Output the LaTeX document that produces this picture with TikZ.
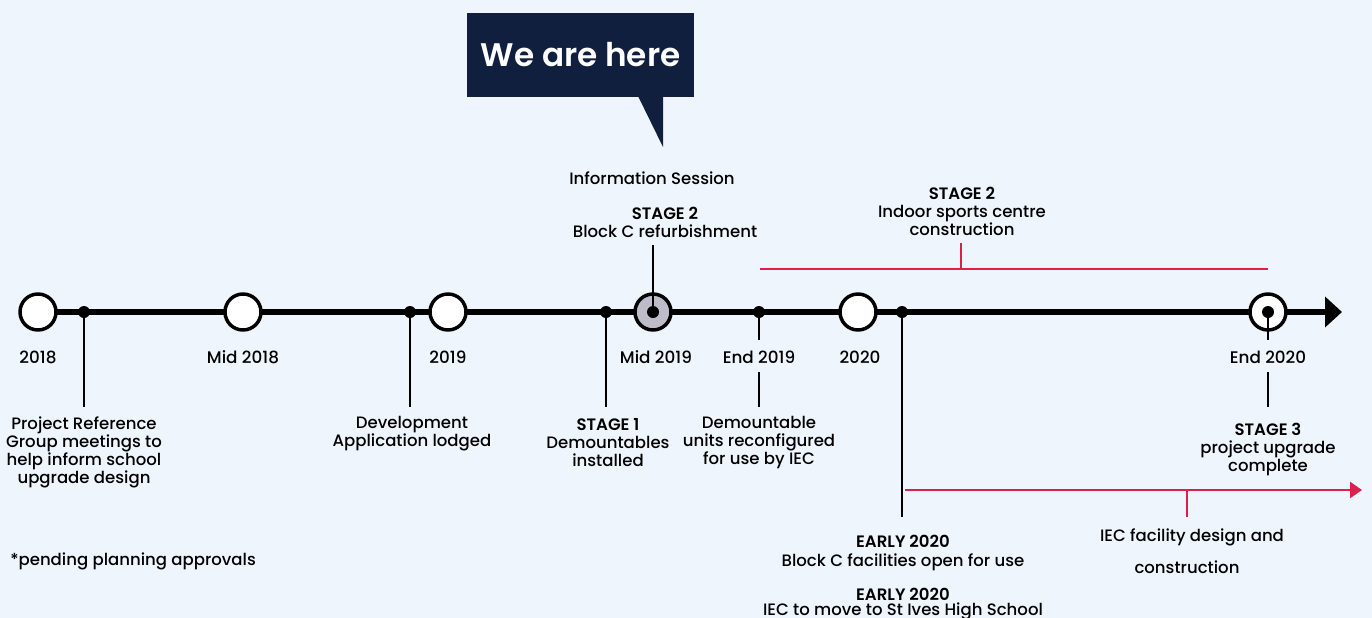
\documentclass[tikz,border=0pt]{standalone}
\usepackage{fontspec}
\setmainfont{Poppins}[UprightFont=* Medium,BoldFont=* SemiBold]
\usetikzlibrary{arrows.meta}
\definecolor{bg}{HTML}{EEF5FC}
\definecolor{navy}{HTML}{0F1F3D}
\definecolor{redline}{HTML}{DC1F4B}
\definecolor{grayfill}{HTML}{BDBCC8}
\begin{document}
\begin{tikzpicture}[x=0.75pt,y=-0.75pt,
  yearc/.style={circle,draw=black,line width=2.6pt,fill=white,minimum size=27pt,inner sep=0pt},
  evdot/.style={circle,fill=black,minimum size=9pt,inner sep=0pt},
  txt/.style={align=center,inner sep=0pt,font=\fontsize{12.4}{13.5}\selectfont,text=black},
  yrlab/.style={inner sep=0pt,font=\fontsize{12.6}{13}\selectfont},
  stem/.style={line width=2.2pt},
  redl/.style={draw=redline,line width=1.8pt}]
\fill[bg] (0,0) rectangle (1372,618);
\useasboundingbox (0,0) rectangle (1372,618);

% main axis
\coordinate (start) at (20,312);
\coordinate (tip) at (1342,312);
\draw[line width=3.8pt,-{Triangle[length=12.75pt,width=22.5pt]}] (start) -- (tip);

% year circles
\node[yearc] (c2018) at (38,312) {};
\node[yearc] (cmid18) at (243,312) {};
\node[yearc] (c2019) at (448,312) {};
\node[yearc,fill=grayfill] (cmid19) at (653,312) {};
\node[yearc] (c2020) at (858,312) {};
\node[yearc] (cend20) at (1268,312) {};

% stems end points
\coordinate (s1end) at (84,407);
\coordinate (s2end) at (410,407);
\coordinate (s3end) at (606,407);
\coordinate (s4a) at (759,340);
\coordinate (s4b) at (759,372);
\coordinate (s4c) at (759,407);
\coordinate (s5end) at (902,517);
\coordinate (s6a) at (1268,340);
\coordinate (s6b) at (1268,372);
\coordinate (s6c) at (1268,407);
\coordinate (mtop) at (653,245);

% event dots
\node[evdot] (d1) at (84,312) {};
\node[evdot] (d2) at (410,312) {};
\node[evdot] (d3) at (606,312) {};
\node[evdot] (d4) at (759,312) {};
\node[evdot] (d5) at (902,312) {};
\node[evdot] (dm) at (653,312) {};
\node[evdot] (de) at (1268,312) {};

\draw[stem] (d1.center) -- (s1end);
\draw[stem] (d2.center) -- (s2end);
\draw[stem] (d3.center) -- (s3end);
\draw[stem] (d4.center) -- (s4a);
\draw[stem] (s4b) -- (s4c);
\draw[stem] (d5.center) -- (s5end);
\draw[stem] (de.center) -- (s6a);
\draw[stem] (s6b) -- (s6c);
\draw[stem] (dm.center) -- (mtop);

% year labels
\node[yrlab] (l2018) at (38,357) {2018};
\node[yrlab] (lmid18) at (243,357) {Mid 2018};
\node[yrlab] (l2019) at (448,357) {2019};
\node[yrlab] (lmid19) at (656,357) {Mid 2019};
\node[yrlab] (lend19) at (759,357) {End 2019};
\node[yrlab] (l2020) at (860,357) {2020};
\node[yrlab] (lend20) at (1268,357) {End 2020};

% event texts
\node[txt] (t1) at (84,452) {Project Reference\\Group meetings to\\help inform school\\upgrade design};
\node[txt] (t2) at (412,434) {Development\\Application lodged};
\node[txt] (t3) at (608,443) {\textbf{STAGE 1}\\Demountables\\installed};
\node[txt] (t4) at (759,443) {Demountable\\units reconfigured\\for use by IEC};
\node[txt] (t6) at (1268,449) {\textbf{STAGE 3}\\project upgrade\\complete};
\node[txt] (ea1) at (903,541) {\textbf{EARLY 2020}};
\node[txt] (eb1) at (903,562) {Block C facilities open for use};
\node[txt] (ea2) at (903,594) {\textbf{EARLY 2020}};
\node[txt] (eb2) at (903,611) {IEC to move to St Ives High School};
\node[txt] (info) at (652,178) {Information Session};
\node[txt] (mid) at (665,222) {\textbf{STAGE 2}\\Block C refurbishment};
\node[txt] (st2) at (962,211) {\textbf{STAGE 2}\\Indoor sports centre\\construction};
\node[txt] (iec1) at (1192,537) {IEC facility design and};
\node[txt] (iec2) at (1187,567) {construction};
\node[txt,anchor=west] (pend) at (10,561) {*pending planning approvals};

% red bracket top
\coordinate (rb1) at (760,269);
\coordinate (rb2) at (1268,269);
\coordinate (rbm) at (961,269);
\coordinate (rbt) at (961,243);
\draw[redl] (rb1) -- (rb2);
\draw[redl] (rbm) -- (rbt);

% red arrow bottom
\coordinate (ra1) at (905,490);
\coordinate (ra2) at (1362,490);
\coordinate (ram) at (1187,490);
\coordinate (rat) at (1187,517);
\draw[redl,-{Triangle[length=9pt,width=12pt]}] (ra1) -- (ra2);
\draw[redl] (ram) -- (rat);

% speech bubble
\node[fill=navy,text=white,minimum width=170.25pt,minimum height=63pt,inner sep=0pt,font=\fontsize{24.5}{27}\selectfont\bfseries] (bubble) at (580.5,55) {We are here};
\coordinate (tailL) at (638,96);
\coordinate (tailR) at (663,96);
\coordinate (tailT) at (663,147);
\fill[navy] (tailL) -- (tailR) -- (tailT) -- cycle;
\end{tikzpicture}
\end{document}
